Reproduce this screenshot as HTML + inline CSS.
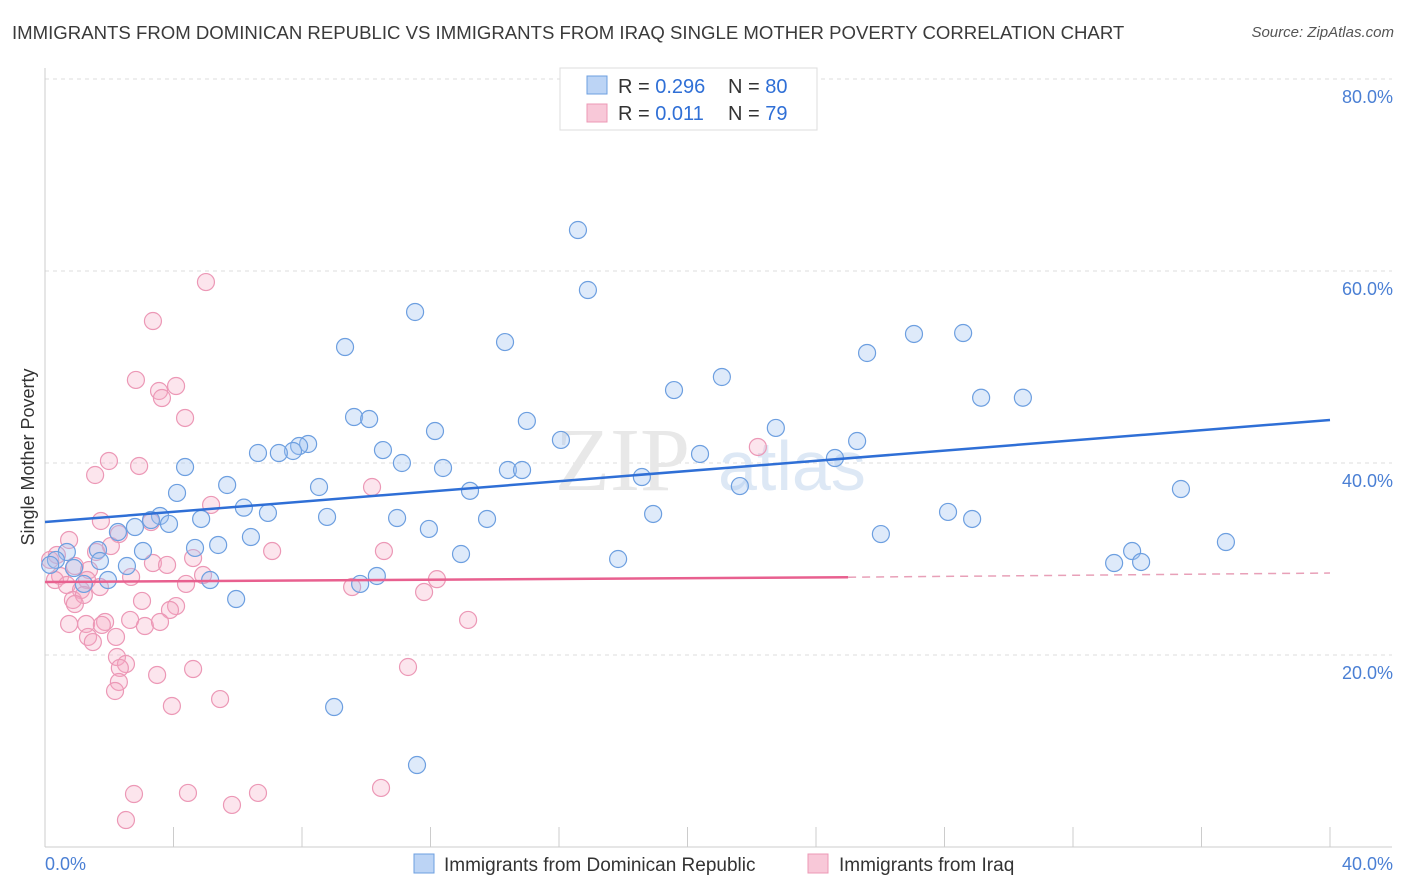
<!DOCTYPE html>
<html><head><meta charset="utf-8">
<style>
body{margin:0;background:#fff;font-family:"Liberation Sans",sans-serif;}
#wrap{position:relative;width:1406px;height:892px;overflow:hidden;}
.title{position:absolute;left:12px;top:22px;font-size:18.6px;color:#3a3a3a;}
.source{position:absolute;right:12px;top:24px;font-size:15px;color:#555;font-style:italic;}
</style></head><body>
<div id="wrap">
<div class="title">IMMIGRANTS FROM DOMINICAN REPUBLIC VS IMMIGRANTS FROM IRAQ SINGLE MOTHER POVERTY CORRELATION CHART</div>
<div class="source">Source: ZipAtlas.com</div>
<svg id="svg" width="1406" height="892" style="position:absolute;left:0;top:0"></svg>
</div>
<script>
const blueX=[16.59,16.9,11.52,9.34,14.32,25.59,27.05,28.58,21.07,19.58,29.14,30.44,9.62,10.09,15.0,12.14,22.75,8.19,7.91,7.72,10.52,16.06,25.28,6.63,7.28,20.39,4.36,11.11,12.39,14.41,14.85,24.59,18.58,4.11,5.67,8.53,13.23,21.63,6.19,6.94,8.78,4.86,10.96,13.76,18.93,28.11,28.86,35.36,3.58,3.3,3.86,2.8,2.27,11.95,26.02,6.41,5.39,4.67,3.05,1.65,0.68,12.95,17.84,36.76,33.84,33.28,34.12,2.55,1.71,0.9,0.34,0.16,10.33,9.81,5.14,1.96,1.21,5.95,9.0,11.58];
const blueY=[64.27,58.02,55.73,52.08,52.6,51.46,53.44,53.54,48.96,47.6,46.8,46.8,44.79,44.58,44.38,43.33,43.65,41.98,41.77,41.25,41.35,42.4,42.29,41.04,41.04,40.94,39.58,40.0,39.48,39.27,39.27,40.52,38.54,36.88,37.71,37.5,37.1,37.6,35.35,34.8,34.38,34.17,34.27,34.17,34.69,34.9,34.17,37.29,34.48,34.06,33.65,33.33,32.81,33.13,32.6,32.29,31.46,31.15,30.83,30.94,30.73,30.52,30.0,31.77,30.83,29.58,29.69,29.27,29.79,29.06,29.9,29.38,28.23,27.4,27.81,27.81,27.4,25.83,14.58,8.54];
const pinkX=[5.01,3.36,2.83,3.55,4.08,3.64,4.36,1.99,2.93,1.56,1.74,5.17,3.3,2.3,10.18,22.19,0.75,2.05,1.59,10.55,7.07,4.61,3.36,3.8,0.37,0.16,0.93,1.37,0.47,1.31,0.31,0.68,1.71,1.12,2.68,4.39,4.92,12.2,9.56,11.8,0.87,1.21,3.02,4.08,3.89,0.93,0.75,1.28,1.87,1.77,2.65,3.11,3.58,13.17,1.34,1.49,2.21,2.24,2.52,2.33,3.49,4.61,11.3,2.3,2.18,5.45,3.95,2.77,4.45,6.63,5.82,2.52,10.46];
const pinkY=[58.85,54.79,48.65,47.5,48.02,46.77,44.69,40.21,39.69,38.75,33.96,35.63,33.85,32.6,37.5,41.67,31.98,31.35,30.73,30.83,30.83,30.1,29.58,29.38,30.42,29.9,29.27,28.85,28.23,27.81,27.81,27.29,27.08,26.77,28.13,27.4,28.33,27.9,27.08,26.56,25.73,26.25,25.63,25.1,24.69,25.31,23.23,23.23,23.44,23.13,23.65,23.02,23.44,23.65,21.88,21.35,21.88,19.79,19.06,18.65,17.92,18.54,18.75,17.19,16.25,15.41,14.69,5.52,5.63,5.63,4.38,2.81,6.15];
const yTicks=[20,40,60,80];
const yTickLabels=["20.0%","40.0%","60.0%","80.0%"];
const blueTrend=[33.85,44.48];
const pinkTrend=[27.6,28.1,28.54];

const NS="http://www.w3.org/2000/svg";
const svg=document.getElementById('svg');
const X=v=>45+v*32.125;
const Y=v=>847-v*9.6;
function mk(t,a){const e=document.createElementNS(NS,t);for(const k in a)e.setAttribute(k,a[k]);svg.appendChild(e);return e;}

yTicks.forEach((t,i)=>{
 const g=mk('line',{x1:45,x2:1392,y1:Y(t),y2:Y(t),stroke:'#ddd','stroke-dasharray':'4,4'});
 
 
 const tx=mk('text',{x:1393,y:Y(t)+24,'text-anchor':'end','font-size':18,fill:'#4a7fd4','font-family':'Liberation Sans'});
 tx.textContent=yTickLabels[i];
 
 
});
const ax=mk('line',{x1:45,x2:45,y1:68,y2:847,stroke:'#ccc'});


const bx=mk('line',{x1:45,x2:1392,y1:847,y2:847,stroke:'#ccc'});


for(let i=0;i<=10;i++){
 const tk=mk('line',{x1:X(i*4),x2:X(i*4),y1:827,y2:847,stroke:'#ccc'});
 
 
}
function txt(s,a,name){const e=mk('text',Object.assign({'font-family':'Liberation Sans'},a));e.textContent=s;return e;}
txt('0.0%',{x:45,y:870,'font-size':18,fill:'#4a7fd4'},'x-min-label');
txt('40.0%',{x:1393,y:870,'font-size':18,fill:'#4a7fd4','text-anchor':'end'},'x-max-label');
txt('Single Mother Poverty',{x:34,y:457,'font-size':18,fill:'#333','text-anchor':'middle',transform:'rotate(-90 34 457)'},'y-axis-title');
txt('ZIP',{x:555,y:490,'font-size':90,fill:'#e8e8e8','font-family':'Liberation Serif'},'watermark-zip');
txt('atlas',{x:718,y:490,'font-size':70,fill:'#dde8f5'},'watermark-atlas');

pinkX.forEach((v,i)=>{const c=mk('circle',{cx:X(v),cy:Y(pinkY[i]),r:8.5,fill:'rgba(244,170,196,0.3)',stroke:'#ec98b6','stroke-width':1.2});
 
 });
blueX.forEach((v,i)=>{const c=mk('circle',{cx:X(v),cy:Y(blueY[i]),r:8.5,fill:'rgba(160,196,240,0.35)',stroke:'#6d9fe0','stroke-width':1.2});
 
 });

const bl=mk('line',{x1:X(0),y1:Y(blueTrend[0]),x2:X(40),y2:Y(blueTrend[1]),stroke:'#2f6fd6','stroke-width':2.5});


const pl=mk('line',{x1:X(0),y1:Y(pinkTrend[0]),x2:X(25),y2:Y(pinkTrend[1]),stroke:'#e8608f','stroke-width':2.5});


const pd=mk('line',{x1:X(25),y1:Y(pinkTrend[1]),x2:X(40),y2:Y(pinkTrend[2]),stroke:'#e8a0b8','stroke-width':1.5,'stroke-dasharray':'8,6'});



const lb=mk('rect',{x:560,y:68,width:257,height:62,fill:'#fff',stroke:'#ddd'});


const s1=mk('rect',{x:587,y:76,width:20,height:18,fill:'#bcd4f5',stroke:'#6d9fe0'});


const s2=mk('rect',{x:587,y:104,width:20,height:18,fill:'#f8c8d8',stroke:'#ec98b6'});


function rich(y,r,n,name){const e=mk('text',{x:618,y:y,'font-size':20,fill:'#333','font-family':'Liberation Sans'});
 e.innerHTML='R = <tspan fill="#2f6fd6">'+r+'</tspan><tspan x="728">N = </tspan><tspan fill="#2f6fd6">'+n+'</tspan>';
 }
rich(93,'0.296','80','legend-stats-dominican');
rich(120,' 0.011','79','legend-stats-iraq');

const b1=mk('rect',{x:414,y:854,width:20,height:19,fill:'#bcd4f5',stroke:'#6d9fe0'});


txt('Immigrants from Dominican Republic',{x:444,y:871,'font-size':19,fill:'#333'},'legend-label-dominican');
const b2=mk('rect',{x:808,y:854,width:20,height:19,fill:'#f8c8d8',stroke:'#ec98b6'});


txt('Immigrants from Iraq',{x:839,y:871,'font-size':19,fill:'#333'},'legend-label-iraq');
</script>
</body></html>
